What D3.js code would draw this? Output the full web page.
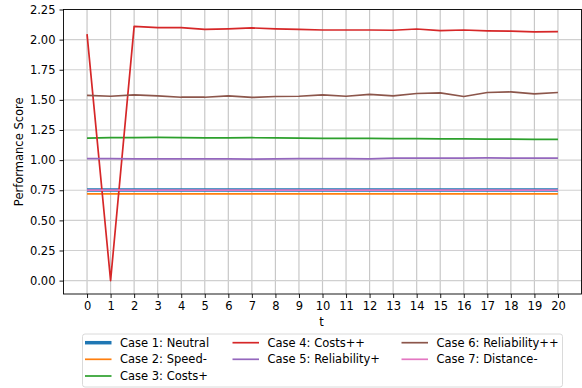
<!DOCTYPE html>
<html>
<head>
<meta charset="utf-8">
<script src="https://cdn.jsdelivr.net/npm/d3@7"></script>
<style>
  body { margin: 0; background: #fff; }
  text { font-family: "DejaVu Sans", sans-serif; }
</style>
</head>
<body>
<div id="chart"></div>
<script>
// time steps
var tValues = d3.range(0, 21);

// series values
var case1 = [0.752,0.752,0.752,0.752,0.752,0.752,0.752,0.752,0.752,0.752,0.752,0.752,0.752,0.752,0.752,0.752,0.752,0.752,0.752,0.752,0.752];
var case2 = [0.720,0.720,0.720,0.720,0.720,0.720,0.720,0.720,0.720,0.720,0.720,0.720,0.720,0.720,0.720,0.720,0.720,0.720,0.720,0.720,0.720];
var case3 = [1.183,1.186,1.187,1.188,1.187,1.184,1.185,1.186,1.184,1.182,1.181,1.180,1.180,1.179,1.178,1.177,1.176,1.174,1.174,1.172,1.172];
var case4 = [2.045,0.000,2.110,2.100,2.100,2.085,2.090,2.097,2.090,2.085,2.080,2.080,2.080,2.078,2.088,2.075,2.080,2.073,2.070,2.065,2.066];
var case5 = [1.012,1.012,1.011,1.011,1.011,1.010,1.010,1.009,1.010,1.012,1.013,1.013,1.010,1.016,1.016,1.016,1.016,1.018,1.017,1.017,1.017];
var case6 = [1.537,1.530,1.541,1.533,1.522,1.522,1.533,1.520,1.528,1.530,1.541,1.530,1.545,1.533,1.553,1.558,1.528,1.561,1.566,1.550,1.561];
var case7 = [0.751,0.751,0.751,0.751,0.751,0.751,0.751,0.751,0.751,0.751,0.751,0.751,0.751,0.751,0.751,0.751,0.751,0.751,0.751,0.751,0.751];

var seriesNames = ["Case 1: Neutral","Case 2: Speed-","Case 3: Costs+","Case 4: Costs++","Case 5: Reliability+","Case 6: Reliability++","Case 7: Distance-"];
var seriesValues = [case1, case2, case3, case4, case5, case6, case7];
var seriesColors = ["#1f77b4","#ff7f0e","#2ca02c","#d62728","#9467bd","#8c564b","#e377c2"];
var seriesWidths = [3.5, 1.7, 1.7, 1.7, 1.7, 1.7, 1.7];

var yTicks = [0, 0.25, 0.5, 0.75, 1.0, 1.25, 1.5, 1.75, 2.0, 2.25];

var WIDTH = 582, HEIGHT = 388;
var PLOT_LEFT = 63.5, PLOT_RIGHT = 581.5, PLOT_TOP = 9.5, PLOT_BOTTOM = 294;
var FONT = "11.5px";

var svg = d3.select("#chart").append("svg")
  .attr("width", WIDTH).attr("height", HEIGHT);

var x = d3.scaleLinear().domain([-1, 21]).range([PLOT_LEFT, PLOT_RIGHT]);
var y = d3.scaleLinear().domain([-0.111, 2.25]).range([PLOT_BOTTOM, PLOT_TOP]);

// grid
var gGrid = svg.append("g").attr("id", "grid");
gGrid.selectAll("line.vgrid").data(tValues).enter().append("line")
  .attr("class", "vgrid")
  .attr("x1", function(d){ return x(d); }).attr("x2", function(d){ return x(d); })
  .attr("y1", PLOT_TOP).attr("y2", PLOT_BOTTOM)
  .style("stroke", "#c8c8c8").style("stroke-width", 1.2);
gGrid.selectAll("line.hgrid").data(yTicks).enter().append("line")
  .attr("class", "hgrid")
  .attr("x1", PLOT_LEFT).attr("x2", PLOT_RIGHT)
  .attr("y1", function(d){ return y(d); }).attr("y2", function(d){ return y(d); })
  .style("stroke", "#d0d0d0").style("stroke-width", 1.2);

// lines
var line = d3.line()
  .x(function(d, i){ return x(tValues[i]); })
  .y(function(d){ return y(d); });

var gLines = svg.append("g").attr("id", "lines");
seriesValues.forEach(function(vals, i){
  gLines.append("path")
    .datum(vals)
    .attr("d", line)
    .style("fill", "none")
    .style("stroke", seriesColors[i])
    .style("stroke-width", seriesWidths[i])
    .style("stroke-linejoin", "round");
});

// axes
var xAxis = d3.axisBottom(x).tickValues(tValues).tickFormat(d3.format("d")).tickSize(4).tickPadding(4);
var yAxis = d3.axisLeft(y).tickValues(yTicks).tickFormat(d3.format(".2f")).tickSize(4).tickPadding(4);

var gx = svg.append("g").attr("transform", "translate(0," + PLOT_BOTTOM + ")").call(xAxis);
var gy = svg.append("g").attr("transform", "translate(" + PLOT_LEFT + ",0)").call(yAxis);
[gx, gy].forEach(function(g){
  g.select(".domain").remove();
  g.selectAll("text").style("font-size", FONT).style("font-family", "DejaVu Sans").style("fill", "#000");
  g.selectAll("line").style("stroke", "#000").style("stroke-width", 0.9);
});

// frame
svg.append("rect")
  .attr("x", PLOT_LEFT).attr("y", PLOT_TOP)
  .attr("width", PLOT_RIGHT - PLOT_LEFT).attr("height", PLOT_BOTTOM - PLOT_TOP)
  .style("fill", "none").style("stroke", "#000").style("stroke-width", 0.9);

// axis labels
svg.append("text")
  .attr("x", (PLOT_LEFT + PLOT_RIGHT) / 2 - 1).attr("y", 326)
  .attr("text-anchor", "middle").style("font-size", FONT)
  .text("t");
svg.append("text")
  .attr("transform", "translate(23," + ((PLOT_TOP + PLOT_BOTTOM) / 2) + ") rotate(-90)")
  .attr("text-anchor", "middle").style("font-size", FONT)
  .text("Performance Score");

// legend (3 columns, column-major like matplotlib)
var gLegend = svg.append("g").attr("id", "legend");
gLegend.append("rect")
  .attr("x", 82.5).attr("y", 334).attr("width", 480).attr("height", 53)
  .attr("rx", 2.5)
  .style("fill", "#fff").style("fill-opacity", 0.8)
  .style("stroke", "#d6d6d6").style("stroke-width", 0.9);

var colX = [85, 232.5, 401.5];
var rowY = [342.7, 359.3, 376];
var perCol = [3, 2, 2];
var idx = 0;
perCol.forEach(function(n, c){
  for (var r = 0; r < n; r++){
    var k = idx++;
    gLegend.append("line")
      .attr("x1", colX[c]).attr("x2", colX[c] + 26.5)
      .attr("y1", rowY[r]).attr("y2", rowY[r])
      .style("stroke", seriesColors[k]).style("stroke-width", seriesWidths[k]);
    gLegend.append("text")
      .attr("x", colX[c] + 35).attr("y", rowY[r]).attr("dy", "0.36em")
      .style("font-size", FONT)
      .text(seriesNames[k]);
  }
});
</script>
</body>
</html>
